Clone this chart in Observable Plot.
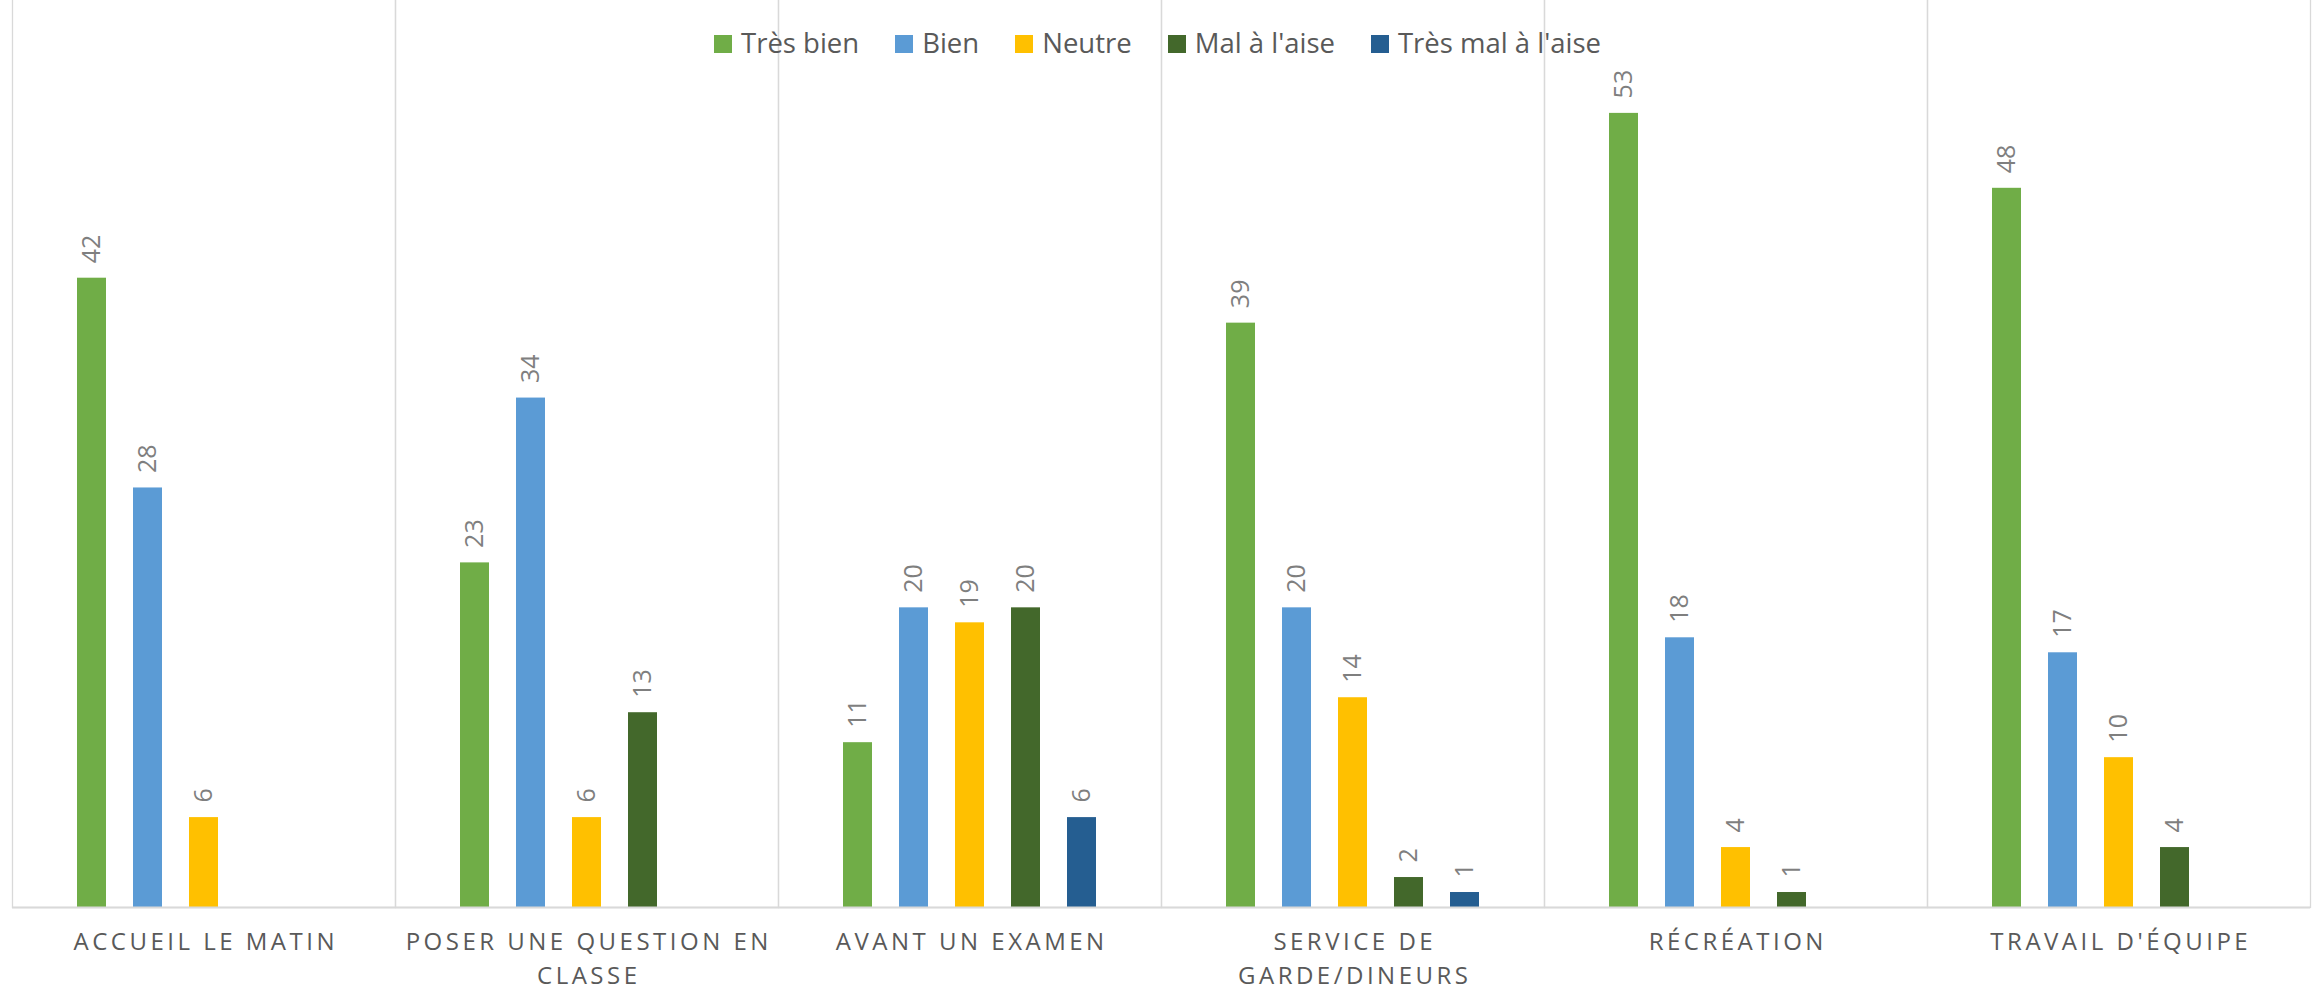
<!DOCTYPE html>
<html><head><meta charset="utf-8">
<script src="https://cdn.jsdelivr.net/npm/d3@7"></script>
<script src="https://cdn.jsdelivr.net/npm/@observablehq/plot@0.6"></script>
<style>
html,body{margin:0;padding:0;background:#fff;}
#wrap{position:relative;width:2318px;height:994px;}
#legend{position:absolute;left:714px;top:29px;display:flex;font-family:"Open Sans";font-size:27.5px;line-height:27px;color:#595959;white-space:nowrap;}
.item{display:flex;align-items:flex-start;margin-right:36px;}
.sw{width:18px;height:18px;margin-top:6px;margin-right:9px;}
</style></head><body><div id="wrap"><div id="chart"></div><div id="legend"></div></div>
<script>
const categories = ["Accueil le matin", "Poser une question en classe", "Avant un examen", "Service de garde/dineurs", "Récréation", "Travail d'équipe"];
const categoryLabels = ["ACCUEIL LE MATIN", "POSER UNE QUESTION EN\nCLASSE", "AVANT UN EXAMEN", "SERVICE DE\nGARDE/DINEURS", "RÉCRÉATION", "TRAVAIL D'ÉQUIPE"];
const series = ["Très bien", "Bien", "Neutre", "Mal à l'aise", "Très mal à l'aise"];
const colors = ["#70AD47", "#5B9BD5", "#FFC000", "#43682B", "#255E91"];
const tresBien = [42, 23, 11, 39, 53, 48];
const bien = [28, 34, 20, 20, 18, 17];
const neutre = [6, 6, 19, 14, 4, 10];
const malALaise = [null, 13, 20, 2, 1, 4];
const tresMalALaise = [null, null, 6, 1, null, null];

const seriesValues = [tresBien, bien, neutre, malALaise, tresMalALaise];
const rows = [];
categories.forEach((c, i) => {
  series.forEach((s, j) => {
    const v = seriesValues[j][i];
    if (v != null) rows.push({category: c, series: s, value: v});
  });
});
const labelRows = categories.map((c, i) => ({category: c, label: categoryLabels[i]}));

const plot = Plot.plot({
  width: 2318, height: 994,
  marginLeft: 12, marginRight: 8, marginTop: 8, marginBottom: 87,
  style: {fontFamily: "Open Sans", background: "transparent"},
  fx: {domain: categories, paddingInner: 0, paddingOuter: 0, axis: null, label: null},
  x: {domain: series, paddingInner: 0.482, paddingOuter: 1.16, axis: null},
  y: {domain: [0, 60], axis: null},
  color: {domain: series, range: colors},
  marks: [
    Plot.frame({stroke: "#d9d9d9", strokeWidth: 1.3, insetTop: -12}),
    Plot.barY(rows, {fx: "category", x: "series", y: "value", fill: "series"}),
    Plot.ruleY([0], {stroke: "#d9d9d9", strokeWidth: 2}),
    Plot.text(rows, {fx: "category", x: "series", y: "value", text: d => String(d.value), rotate: -90, textAnchor: "start", lineAnchor: "middle", dy: -15, fontSize: 25, fill: "#7f7f7f"}),
    Plot.text(labelRows, {fx: "category", text: "label", frameAnchor: "bottom", lineAnchor: "top", dy: 18, dx: 1.75, fontSize: 24, fill: "#595959", lineHeight: 1.42})
  ]
});
const labelSet = new Set(categoryLabels.map(l => l.replace("\n", "")));
d3.select(plot).selectAll("text").filter(function() { return labelSet.has(this.textContent.replace("\n", "")); })
  .style("letter-spacing", "3.5px");
document.getElementById("chart").appendChild(plot);

const legend = document.getElementById("legend");
series.forEach((s, j) => {
  const it = document.createElement("div"); it.className = "item";
  const sw = document.createElement("div"); sw.className = "sw"; sw.style.background = colors[j];
  const t = document.createElement("span"); t.textContent = s;
  it.appendChild(sw); it.appendChild(t); legend.appendChild(it);
});
</script></body></html>
